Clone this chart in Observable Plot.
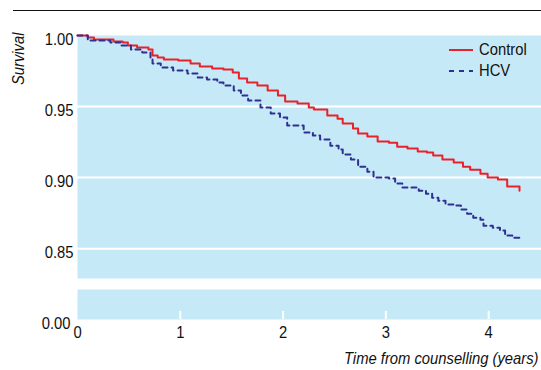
<!DOCTYPE html>
<html><head><meta charset="utf-8">
<script src="https://cdn.jsdelivr.net/npm/d3@7"></script>
<script src="https://cdn.jsdelivr.net/npm/@observablehq/plot@0.6"></script>
<style>
body{margin:0;background:#fff}
#wrap{position:relative;width:541px;height:370px;font-family:"Liberation Sans",Arial,sans-serif;overflow:hidden}
#wrap > svg{position:absolute;left:0;overflow:visible}
#rule{position:absolute;left:13px;top:10px;width:528px;border-top:1.3px solid #111}
.leg{position:absolute;left:449px;height:20px;display:flex;align-items:center;font-size:17px;color:#111}
.leg svg{margin-right:6px}
.leg span{display:inline-block;transform:scaleX(0.87);transform-origin:left center}
</style></head><body>
<div id="wrap"><div id="rule"></div></div>
<script>
const seriesNames = ["Control", "HCV"];
const seriesColors = ["#e8222b", "#2e3192"];
const controlTime = [0,0.10,0.16,0.35,0.44,0.49,0.58,0.69,0.73,0.78,0.84,0.98,1.10,1.19,1.31,1.42,1.51,1.57,1.65,1.75,1.85,1.95,2.02,2.14,2.25,2.30,2.43,2.53,2.58,2.68,2.73,2.82,2.92,3.03,3.11,3.21,3.31,3.40,3.46,3.55,3.66,3.75,3.82,3.92,3.99,4.09,4.18,4.30];
const controlSurv = [1.000,0.9986,0.9972,0.9958,0.9951,0.9930,0.9915,0.9901,0.9859,0.9845,0.9831,0.9824,0.9803,0.9782,0.9768,0.9761,0.9739,0.9697,0.9669,0.9648,0.9613,0.9577,0.9535,0.9521,0.9493,0.9479,0.9437,0.9415,0.9380,0.9345,0.9310,0.9289,0.9254,0.9246,0.9218,0.9204,0.9183,0.9176,0.9155,0.9127,0.9106,0.9077,0.9056,0.9028,0.9000,0.8986,0.8937,0.8908];
const hcvTime = [0,0.10,0.32,0.42,0.52,0.63,0.71,0.73,0.81,0.93,1.07,1.17,1.26,1.36,1.42,1.52,1.59,1.66,1.78,1.88,1.97,2.04,2.20,2.29,2.36,2.46,2.54,2.58,2.66,2.73,2.82,2.88,3.03,3.09,3.16,3.32,3.39,3.45,3.51,3.58,3.66,3.73,3.79,3.85,3.92,3.95,4.04,4.11,4.16,4.23,4.30];
const hcvSurv = [1.000,0.9965,0.9951,0.9930,0.9901,0.9880,0.9838,0.9803,0.9775,0.9754,0.9732,0.9704,0.9690,0.9669,0.9648,0.9613,0.9577,0.9542,0.9493,0.9451,0.9423,0.9366,0.9317,0.9296,0.9268,0.9225,0.9197,0.9162,0.9127,0.9077,0.9042,0.9000,0.8993,0.8958,0.8930,0.8908,0.8887,0.8859,0.8838,0.8810,0.8803,0.8775,0.8746,0.8718,0.8704,0.8662,0.8648,0.8627,0.8592,0.8577,0.8556];
const yTicksUpper = [0.85, 0.90, 0.95, 1.00];
const yTicksLower = [0];
const xTicks = [0, 1, 2, 3, 4];
const xLabel = "Time from counselling (years)";
const yLabel = "Survival";

const control = controlTime.map((t, i) => ({t, s: controlSurv[i]}));
const hcv = hcvTime.map((t, i) => ({t, s: hcvSurv[i]}));

const FONT = '"Liberation Sans",Arial,sans-serif';
const BG = "#c6e9f8";
const xDomain = [0, 4.514];
const style = {fontFamily: FONT, fontSize: "17px", color: "#111", background: "transparent", overflow: "visible"};

const upper = Plot.plot({
  width: 541, height: 278, marginTop: 35, marginBottom: 0, marginLeft: 77, marginRight: 0,
  style,
  x: {domain: xDomain, axis: null},
  y: {domain: [0.829, 1.0], axis: null},
  marks: [
    Plot.frame({fill: BG, stroke: null}),
    Plot.ruleY(yTicksUpper.filter(d => d < 1), {stroke: "white", strokeWidth: 2}),
    Plot.axisY({ticks: yTicksUpper, tickFormat: ".2f", tickSize: 0, tickPadding: 4, dy: 4, label: null}),
    Plot.line(control, {x: "t", y: "s", curve: "step-after", stroke: seriesColors[0], strokeWidth: 2}),
    Plot.line(hcv, {x: "t", y: "s", curve: "step-after", stroke: seriesColors[1], strokeWidth: 2, strokeDasharray: "5,4"}),
    Plot.text([yLabel], {frameAnchor: "top-left", rotate: -90, textAnchor: "end", lineAnchor: "middle", dx: -59, dy: -3, fontStyle: "italic", fill: "#111"})
  ]
});
upper.style.top = "0px";

const lower = Plot.plot({
  width: 541, height: 81, marginTop: 0, marginBottom: 51, marginLeft: 77, marginRight: 0,
  style,
  x: {domain: xDomain, axis: null},
  y: {domain: [0, 1], axis: null},
  marks: [
    Plot.frame({fill: BG, stroke: null}),
    Plot.ruleX(xTicks.filter(d => d > 0), {y1: 0, y2: 0.27, stroke: "white", strokeWidth: 2}),
    Plot.axisY({ticks: yTicksLower, tickFormat: ".2f", tickSize: 0, tickPadding: 7, dy: 4, label: null}),
    Plot.axisX({ticks: xTicks, tickFormat: "d", tickSize: 0, tickPadding: 6, label: null}),
    Plot.text([xLabel], {frameAnchor: "bottom-right", textAnchor: "end", lineAnchor: "middle", dx: -3, dy: 39, fontStyle: "italic", fill: "#111"})
  ]
});
lower.style.top = "289px";

const wrap = document.getElementById("wrap");
wrap.appendChild(upper);
wrap.appendChild(lower);

// legend
const rows = [{top: 40}, {top: 61}];
seriesNames.forEach((name, i) => {
  const d = document.createElement("div");
  d.className = "leg";
  d.style.top = rows[i].top + "px";
  const dash = i === 1 ? ' stroke-dasharray="5,5"' : "";
  d.innerHTML = `<svg width="24" height="4"><line x1="0" x2="24" y1="2" y2="2" stroke="${seriesColors[i]}" stroke-width="2"${dash}/></svg><span>${name}</span>`;
  wrap.appendChild(d);
});

// condense glyphs to mimic the narrow typeface of the original
wrap.querySelectorAll(":scope > svg text").forEach(t => {
  const tr = t.getAttribute("transform") || "";
  t.setAttribute("transform", (tr + " scale(0.87,1)").trim());
});
</script>
</body></html>
